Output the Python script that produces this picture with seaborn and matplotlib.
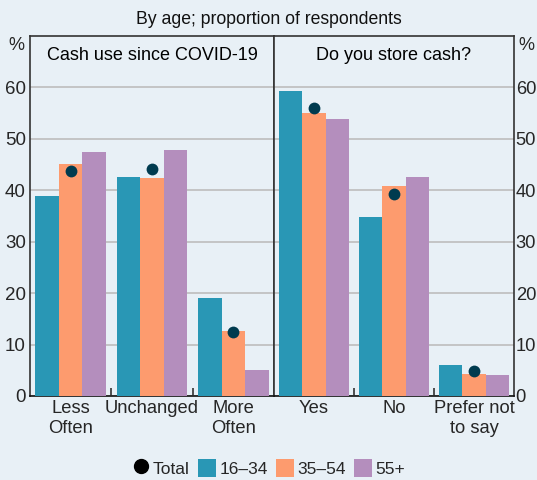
import matplotlib
matplotlib.use("Agg")
import matplotlib.pyplot as plt
from matplotlib.lines import Line2D
from matplotlib.patches import Patch
import seaborn as sns
import pandas as pd

# ---- data ----
ages = ["16–34", "35–54", "55+"]
left_cats = ["Less\nOften", "Unchanged", "More\nOften"]
left_16_34 = [38.8, 42.5, 19.1]
left_35_54 = [45.2, 42.4, 12.7]
left_55p = [47.5, 47.8, 5.0]
left_total = [43.7, 44.1, 12.4]

right_cats = ["Yes", "No", "Prefer not\nto say"]
right_16_34 = [59.3, 34.8, 6.1]
right_35_54 = [55.1, 40.8, 4.3]
right_55p = [53.8, 42.5, 4.1]
right_total = [56.0, 39.3, 4.8]

subtitle = "By age; proportion of respondents"
left_title = "Cash use since COVID-19"
right_title = "Do you store cash?"
yticks = [0, 10, 20, 30, 40, 50, 60]

# ---- style ----
bg = "#e8f0f6"
colors = ["#2997b5", "#fd9b6e", "#b48ebd"]
dot_color = "#003b4f"
sns.set_theme(style="white")
plt.rcParams["font.family"] = ["Liberation Sans", "DejaVu Sans"]

fig = plt.figure(figsize=(5.37, 4.8), dpi=100, facecolor=bg)
L, R, M = 30 / 537, 514 / 537, 274 / 537
B, T = 1 - 396 / 480, 1 - 36 / 480
axL = fig.add_axes([L, B, M - L, T - B])
axR = fig.add_axes([M, B, R - M, T - B])


def long_df(cats, a, b, c):
    rows = []
    for cat, v1, v2, v3 in zip(cats, a, b, c):
        rows += [(cat, ages[0], v1), (cat, ages[1], v2), (cat, ages[2], v3)]
    return pd.DataFrame(rows, columns=["cat", "age", "val"])


panels = [
    (axL, left_cats, left_16_34, left_35_54, left_55p, left_total, left_title, "left"),
    (axR, right_cats, right_16_34, right_35_54, right_55p, right_total, right_title, "right"),
]
for ax, cats, a, b, c, tot, title, side in panels:
    ax.set_facecolor(bg)
    df = long_df(cats, a, b, c)
    sns.barplot(data=df, x="cat", y="val", hue="age", order=cats, hue_order=ages,
                palette=colors, width=0.87, gap=0, linewidth=0, saturation=1,
                legend=False, ax=ax, zorder=3)
    tdf = pd.DataFrame({"cat": cats, "val": tot})
    sns.stripplot(data=tdf, x="cat", y="val", order=cats, jitter=False,
                  color=dot_color, size=8.5, linewidth=0, ax=ax, zorder=5)
    ax.set_xlim(-0.5, len(cats) - 0.5)
    ax.set_ylim(0, 70)
    ax.set_yticks(yticks)
    ax.yaxis.grid(True, color="#bdbdbd", linewidth=1.2, zorder=0)
    ax.set_axisbelow(True)
    ax.set_xlabel("")
    ax.set_ylabel("")
    ax.tick_params(axis="x", which="major", length=0, labelsize=13.2, pad=3)
    ax.set_xticks([0.5, 1.5], minor=True)
    ax.tick_params(axis="x", which="minor", direction="in", length=6, width=1.2,
                   color="#333333", bottom=True)
    if side == "left":
        ax.tick_params(axis="y", length=0, labelsize=13.5, pad=3, left=True,
                       labelleft=True, right=False, labelright=False)
    else:
        ax.yaxis.tick_right()
        ax.tick_params(axis="y", length=0, labelsize=13.2, pad=1.2, right=True,
                       labelright=True, left=False, labelleft=False)
    for s in ax.spines.values():
        s.set_visible(True)
        s.set_color("#333333")
        s.set_linewidth(1.2)
    ax.spines["bottom"].set_color("#111111")
    ax.text(0.5, 0.947, title, transform=ax.transAxes, ha="center", va="center",
            fontsize=13, color="black")
    for lab in ax.get_xticklabels():
        lab.set_linespacing(1.25)

fig.text(0.5, 1 - 20 / 480, subtitle, ha="center", va="center", fontsize=12.7, color="#111111")
fig.text(16 / 537, 1 - 45 / 480, "%", ha="center", va="center", fontsize=13)
fig.text(526 / 537, 1 - 45 / 480, "%", ha="center", va="center", fontsize=13)

handles = [Line2D([0], [0], marker="o", linestyle="none", color="black", markersize=10)]
handles += [Patch(facecolor=col, edgecolor="none") for col in colors]
fig.legend(handles, ["Total"] + ages, loc="center", bbox_to_anchor=(0.5, 1 - 468 / 480),
           ncol=4, frameon=False, fontsize=12.5, handlelength=1.0, handleheight=1.2,
           handletextpad=0.2, columnspacing=0.5, borderaxespad=0)

fig.savefig("out.png", dpi=100, facecolor=bg)
